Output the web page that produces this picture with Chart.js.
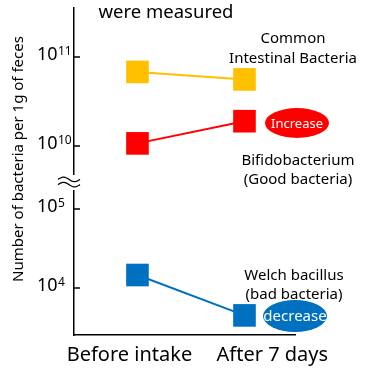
<!DOCTYPE html>
<html>
<head>
<meta charset="utf-8">
<script src="https://cdn.jsdelivr.net/npm/chart.js@4"></script>
<style>
  html, body { margin: 0; padding: 0; background: #fff; }
</style>
</head>
<body>
<canvas id="chart" width="370" height="375"></canvas>
<script>
const categories = ["Before intake", "After 7 days"];
const commonCounts = [6.8e10, 5.6e10];
const bifidoCounts = [1.07e10, 1.9e10];
const welchCounts = [1.46e4, 4.5e3];
const upperTicks = [1e10, 1e11];
const lowerTicks = [1e4, 1e5];
const yTitle = "Number of bacteria per 1g of feces";

const FONT = "'Noto Sans', sans-serif";
Chart.defaults.font.family = FONT;
Chart.defaults.color = "#000";

function toPoints(values) {
  return values.map((v, i) => ({ x: i, y: v }));
}

function series(label, values, color, axis) {
  return {
    label: label,
    data: toPoints(values),
    yAxisID: axis,
    borderColor: color,
    backgroundColor: color,
    borderWidth: 2,
    pointStyle: "rect",
    pointRadius: 16,
    pointHoverRadius: 16,
    pointBorderWidth: 0,
  };
}

function text(ctx, str, x, y, size, color, align) {
  ctx.font = size + "px " + FONT;
  ctx.fillStyle = color || "#000";
  ctx.textAlign = align || "center";
  ctx.textBaseline = "alphabetic";
  ctx.fillText(str, x, y);
}

function oval(ctx, x, y, rx, ry, color) {
  ctx.beginPath();
  ctx.ellipse(x, y, rx, ry, 0, 0, Math.PI * 2);
  ctx.fillStyle = color;
  ctx.fill();
}

const decorations = {
  id: "decorations",
  afterDraw(chart) {
    const ctx = chart.ctx;
    const left = chart.chartArea.left;
    ctx.save();

    // tick marks + 10^n labels
    [["yTop", upperTicks], ["yBottom", lowerTicks]].forEach(([id, ticks]) => {
      const scale = chart.scales[id];
      ticks.forEach((v) => {
        const y = scale.getPixelForValue(v);
        ctx.beginPath();
        ctx.moveTo(left, y);
        ctx.lineTo(left + 6, y);
        ctx.lineWidth = 1.5;
        ctx.strokeStyle = "#000";
        ctx.stroke();
        const exp = Math.round(Math.log10(v));
        text(ctx, "10", left - 16.5, y + 3, 18, "#000", "right");
        text(ctx, String(exp), left - 16, y - 2, 12, "#000", "left");
      });
    });

    // axis break
    const yb = chart.scales.yBottom.top;
    ctx.fillStyle = "#fff";
    ctx.fillRect(left - 4, yb - 7, 8, 15);
    ctx.lineWidth = 1.3;
    ctx.strokeStyle = "#000";
    [-2.6, 2.6].forEach((dy) => {
      ctx.beginPath();
      for (let i = 0; i <= 22; i++) {
        const px = left - 16 + i;
        const py = yb + dy - 2.2 * Math.sin((i / 22) * Math.PI * 2);
        if (i === 0) ctx.moveTo(px, py); else ctx.lineTo(px, py);
      }
      ctx.stroke();
    });

    // y title
    ctx.save();
    ctx.translate(19, 159);
    ctx.rotate(-Math.PI / 2);
    ctx.font = "15px " + FONT;
    ctx.fillStyle = "#000";
    ctx.textAlign = "center";
    ctx.textBaseline = "middle";
    ctx.fillText(yTitle, 0, 0);
    ctx.restore();

    // annotations
    text(ctx, "were measured", 166, 18, 18.5);
    text(ctx, "Common", 293, 43, 15);
    text(ctx, "Intestinal Bacteria", 293, 63, 15);
    oval(ctx, 297, 123, 32, 15, "#FF0000");
    text(ctx, "Increase", 297, 128, 13, "#fff");
    text(ctx, "Bifidobacterium", 298, 165, 15);
    text(ctx, "(Good bacteria)", 298, 184, 15);
    text(ctx, "Welch bacillus", 294, 280, 15);
    text(ctx, "(bad bacteria)", 294, 299, 15);
    oval(ctx, 295, 316, 32, 16, "#0070C0");
    text(ctx, "decrease", 295, 321, 15, "#fff");

    ctx.restore();
  },
};

const ctx = document.getElementById("chart").getContext("2d");
new Chart(ctx, {
  type: "line",
  data: {
    datasets: [
      series("Common Intestinal Bacteria", commonCounts, "#FFC000", "yTop"),
      series("Bifidobacterium", bifidoCounts, "#FF0000", "yTop"),
      series("Welch bacillus", welchCounts, "#0070C0", "yBottom"),
    ],
  },
  options: {
    responsive: false,
    animation: false,
    layout: { autoPadding: false, padding: { left: 74, top: 8, right: 75, bottom: 8 } },
    plugins: { legend: { display: false }, tooltip: { enabled: false } },
    scales: {
      x: {
        type: "linear",
        min: -0.593,
        max: 1.472,
        afterBuildTicks: (scale) => {
          scale.ticks = [{ value: -0.075 }, { value: 1.26 }];
        },
        afterFit: (scale) => {
          scale.height = 32;
        },
        ticks: {
          callback: (v, i) => categories[i],
          font: { size: 20 },
          padding: 8,
          maxRotation: 0,
        },
        grid: { display: false, drawTicks: false },
        border: { display: true, color: "#000", width: 1.5 },
      },
      yBottom: {
        type: "logarithmic",
        position: "left",
        stack: "y",
        stackWeight: 153,
        min: Math.pow(10, 3.405),
        max: Math.pow(10, 5.3418),
        ticks: { display: false },
        grid: { display: false, drawTicks: false },
        border: { display: true, color: "#000", width: 1.5 },
      },
      yTop: {
        type: "logarithmic",
        position: "left",
        stack: "y",
        stackWeight: 174,
        min: Math.pow(10, 9.5955),
        max: Math.pow(10, 11.5506),
        ticks: { display: false },
        grid: { display: false, drawTicks: false },
        border: { display: true, color: "#000", width: 1.5 },
      },
    },
  },
  plugins: [decorations],
});
</script>
</body>
</html>
